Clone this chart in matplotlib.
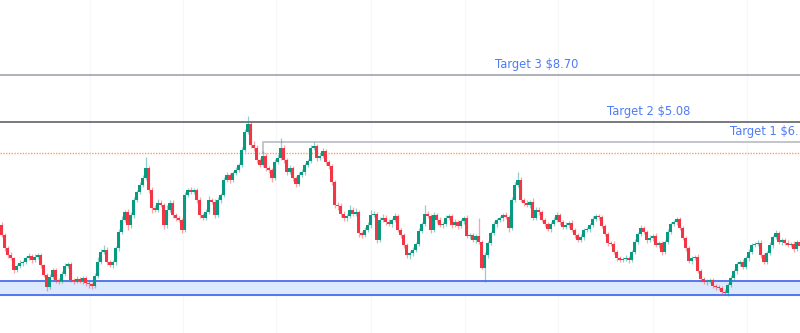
import numpy as np
import matplotlib
matplotlib.use('Agg')
import matplotlib.pyplot as plt

# closing prices, candle by candle (open = previous close)
first_open = 1.75
closes = [
    1.65, 1.52, 1.45, 1.42, 1.30, 1.34, 1.37, 1.38, 1.42, 1.44, 1.40, 1.43, 1.45, 1.35, 1.25, 1.13, 1.23,
    1.30, 1.20, 1.19, 1.26, 1.34, 1.36, 1.20, 1.19, 1.21, 1.19, 1.22, 1.17, 1.16, 1.14, 1.24, 1.38, 1.48,
    # rally to the first peak and the second top
    1.50, 1.38, 1.35, 1.38, 1.52, 1.68, 1.80, 1.88, 1.75, 1.85, 2.00, 2.08, 2.15, 2.22, 2.32, 2.10, 1.92,
    1.90, 1.97, 1.95, 1.75, 1.90, 1.97, 1.85, 1.82, 1.80, 1.70, 2.05, 2.10, 2.08, 2.10, 2.00, 1.85, 1.82,
    1.88, 2.00, 1.98, 1.85, 2.00, 2.05, 2.20, 2.25, 2.20, 2.27, 2.30, 2.35, 2.50, 2.68, 2.76, 2.55, 2.52,
    2.40, 2.35, 2.44, 2.32, 2.30, 2.22, 2.38, 2.42, 2.52, 2.40, 2.28, 2.32, 2.22, 2.16, 2.25,
    # drop into the middle range
    2.28, 2.35, 2.39, 2.52, 2.54, 2.42, 2.44, 2.49, 2.38, 2.34, 2.18, 1.95, 1.94, 1.86, 1.82, 1.84, 1.90,
    1.86, 1.88, 1.67, 1.65, 1.70, 1.75, 1.85, 1.86, 1.60, 1.80, 1.82, 1.78, 1.76, 1.80, 1.84, 1.70, 1.65,
    1.55, 1.45, 1.47, 1.50, 1.56, 1.69, 1.76, 1.86, 1.84,
    # right half
    1.70, 1.85, 1.80, 1.75, 1.76, 1.82, 1.84, 1.75, 1.78, 1.74, 1.79, 1.82, 1.64, 1.65, 1.60, 1.64, 1.58,
    1.32, 1.45, 1.57, 1.67, 1.76, 1.80, 1.82, 1.85, 1.83, 1.72, 2.00, 2.15, 2.20, 2.00, 1.97, 1.95, 1.98,
    1.82, 1.90, 1.88, 1.80, 1.76, 1.71, 1.76, 1.80, 1.85, 1.78, 1.73, 1.75, 1.77, 1.70, 1.65, 1.60, 1.63,
    1.70, 1.71, 1.75, 1.81, 1.84, 1.83, 1.74, 1.66, 1.57, 1.56, 1.48, 1.42, 1.40, 1.41, 1.42, 1.40, 1.48,
    1.58, 1.66, 1.72, 1.68, 1.60, 1.62, 1.64, 1.55, 1.57, 1.48, 1.58, 1.68, 1.76, 1.78, 1.81, 1.72, 1.62,
    1.52, 1.39, 1.42, 1.43, 1.29, 1.21, 1.18, 1.19, 1.20, 1.14, 1.13, 1.12, 1.08, 1.07, 1.15, 1.22, 1.29,
    1.36, 1.38, 1.33, 1.42, 1.48, 1.55, 1.56, 1.57, 1.45, 1.38, 1.47, 1.55, 1.63, 1.67, 1.58, 1.60, 1.57,
    1.55, 1.56, 1.51, 1.58, 1.54,
]

# wick lengths in cents above / below the body
upper_wick = [
    3, 2, 2, 3, 1, 2, 3, 2, 2, 3, 2, 3, 2, 2, 1, 2, 3, 2, 2, 2, 3, 3, 2, 2, 2, 3, 2, 2, 2, 2, 1, 3, 5, 3,
    5, 3, 2, 2, 2, 3, 4, 2, 3, 3, 3, 2, 3, 3, 11, 2, 3, 3, 4, 3, 2, 5, 3, 3, 2, 2, 2, 3, 2, 3, 2, 2, 3, 2,
    3, 4, 2, 3, 3, 2, 3, 3, 2, 2, 3, 2, 3, 3, 8, 2, 4, 3, 2, 5, 3, 2, 2, 3, 4, 10, 3, 2, 3, 2, 2, 3,
    3, 2, 2, 3, 4, 2, 3, 3, 2, 2, 2, 2, 3, 3, 3, 2, 5, 3, 4, 2, 2, 3, 3, 5, 3, 2, 3, 4, 3, 3, 2, 3, 2, 2,
    2, 2, 2, 3, 2, 3, 2, 9, 3,
    2, 3, 2, 3, 2, 3, 2, 2, 3, 2, 2, 2, 3, 2, 2, 2, 18, 2, 3, 2, 2, 3, 2, 2, 2, 3, 2, 3, 3, 8,
    3, 2, 3, 2, 4, 3, 3, 2, 2, 2, 2, 3, 3, 2, 2, 3, 2, 3, 2, 2, 3, 2, 2, 2, 3, 2, 2, 2, 2, 2,
    2, 3, 2, 2, 2, 3, 2, 2, 3, 2, 3, 2, 2, 3, 2, 3, 2, 2, 2, 3, 2, 2, 2, 2, 2, 2, 2, 2, 2, 3,
    2, 2, 2, 2, 2, 2, 2, 2, 3, 2, 3, 2, 2, 2, 3, 2, 3, 2, 2, 3, 3, 2, 2, 3, 2, 3, 2, 2, 2, 3,
    2, 3, 2, 2,
]
lower_wick = [
    2, 3, 3, 2, 3, 2, 2, 3, 2, 2, 3, 2, 2, 3, 2, 4, 2, 2, 3, 3, 2, 2, 2, 2, 3, 2, 2, 3, 3, 4, 3, 2, 2, 2,
    2, 3, 2, 3, 3, 3, 2, 2, 5, 3, 3, 2, 2, 2, 2, 3, 5, 2, 2, 2, 4, 3, 2, 3, 3, 2, 3, 2, 2, 2, 2, 3, 3, 2,
    2, 2, 2, 3, 2, 3, 2, 2, 3, 2, 2, 2, 2, 2, 2, 3, 3, 3, 2, 2, 3, 3, 4, 2, 2, 2, 3, 3, 2, 3, 3, 2,
    2, 3, 2, 2, 2, 3, 2, 2, 3, 3, 3, 3, 4, 3, 3, 3, 2, 2, 2, 4, 3, 2, 2, 3, 2, 3, 2, 2, 3, 2, 3, 2, 2, 3,
    3, 3, 4, 3, 2, 2, 2, 2, 2,
    3, 2, 3, 2, 3, 2, 2, 3, 2, 3, 2, 3, 2, 3, 2, 3, 2, 1, 14, 3, 2, 2, 3, 2, 3, 2, 4, 2, 2, 2,
    2, 3, 2, 3, 2, 2, 3, 2, 3, 2, 3, 2, 2, 3, 2, 2, 3, 2, 3, 2, 2, 3, 2, 3, 2, 2, 3, 2, 2, 3,
    2, 2, 3, 2, 2, 2, 3, 2, 2, 2, 2, 2, 3, 2, 3, 2, 3, 3, 2, 2, 2, 2, 3, 2, 2, 3, 2, 3, 2, 2,
    3, 2, 3, 2, 2, 3, 2, 2, 2, 3, 2, 2, 3, 2, 2, 2, 3, 2, 2, 2, 3, 2, 2, 2, 3, 2, 2, 3, 2, 2,
    2, 3, 2, 2,
]

# horizontal levels
target_levels = [3.25, 2.78, 2.58]
target_labels = ['Target 3 $8.70', 'Target 2 $5.08', 'Target 1 $6.']
target1_start = 87
entry_level = 2.47
zone_top = 1.19
zone_bottom = 1.05
grid_idx = [29.5, 60.5, 91.5, 123, 154.5, 185.5, 217, 248.5]

closes = np.array(closes)
opens = np.concatenate([[first_open], closes[:-1]])
highs = np.maximum(opens, closes) + np.array(upper_wick) / 100
lows = np.minimum(opens, closes) - np.array(lower_wick) / 100
x = np.arange(len(closes))

up_col = '#089981'
dn_col = '#f23645'
colors = np.where(closes >= opens, up_col, dn_col)

fig = plt.figure(figsize=(8, 3.33), dpi=100)
ax = fig.add_axes([0, 0, 1, 1])
xmax = -0.5 + 800 / 3
ax.set_xlim(-0.5, xmax)
ax.set_ylim(0.67, 4.0)

# very faint vertical grid, kept under everything
ax.set_axisbelow(True)
ax.set_xticks(grid_idx)
ax.grid(axis='x', color='#f6f7f9', lw=0.8)
ax.set_yticks([])
ax.tick_params(length=0, labelbottom=False)
for s in ax.spines.values():
    s.set_visible(False)

# support zone
ax.axhspan(zone_bottom, zone_top, color='#dce8fb', zorder=1)
ax.axhline(zone_top, color='#4a6cf0', lw=1.3, zorder=2)
ax.axhline(zone_bottom, color='#4a6cf0', lw=1.3, zorder=2)

# entry dotted line
ax.axhline(entry_level, color='#f0a070', lw=1.0, ls=(0, (1, 1)), zorder=2)

# target lines
ax.axhline(target_levels[0], color='#a0a3aa', lw=1.2, zorder=2)
ax.axhline(target_levels[1], color='#6b6e76', lw=1.3, zorder=2)
ax.plot([target1_start, target1_start, x[-1] + 10],
        [entry_level, target_levels[2], target_levels[2]],
        color='#b8bbc2', lw=1.2, zorder=2)

txt_col = '#4f7cf7'
fs = 8.3
ax.text(178.5, target_levels[0] + 0.04, target_labels[0], color=txt_col,
        fontsize=fs, ha='center', va='bottom', zorder=5)
ax.text(215.8, target_levels[1] + 0.04, target_labels[1], color=txt_col,
        fontsize=fs, ha='center', va='bottom', zorder=5)
ax.text(xmax - 0.4, target_levels[2] + 0.04, target_labels[2], color=txt_col,
        fontsize=fs, ha='right', va='bottom', zorder=5)

# candles
ax.vlines(x, lows, highs, colors=colors, lw=0.9, alpha=0.45, zorder=3)
body = np.where(np.abs(closes - opens) < 0.008, 0.008, closes - opens)
ax.bar(x, body, bottom=opens, width=0.7, color=colors, lw=0, zorder=4)

plt.savefig('out.png', dpi=100, facecolor='white')
